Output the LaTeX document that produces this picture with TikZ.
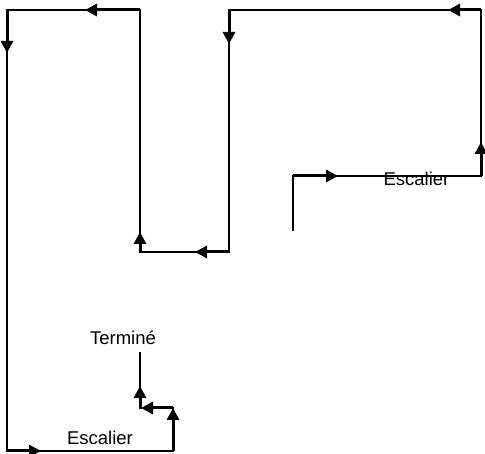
\documentclass[tikz,border=0pt]{standalone}
\usepackage{fontspec}
\setmainfont{Liberation Sans}
\usetikzlibrary{arrows.meta}
\begin{document}
\begin{tikzpicture}[x=1pt,y=-1pt,
  route/.style={line width=1.5pt,line join=miter},
  dirarrow/.style={line width=3pt,-{Triangle[length=12pt,width=12pt]}},
  lbl/.style={font=\fontsize{18.5}{20}\selectfont,anchor=base,inner sep=0pt}]
\useasboundingbox (0,0) rectangle (485,454);
% corners of the route
\coordinate (A) at (293,231);
\coordinate (B) at (293,176);
\coordinate (C) at (481,176);
\coordinate (D) at (481,10);
\coordinate (E) at (229,10);
\coordinate (F) at (229,252);
\coordinate (G) at (140,252);
\coordinate (H) at (140,10);
\coordinate (I) at (7,10);
\coordinate (J) at (7,451);
\coordinate (K) at (173,451);
\coordinate (L) at (173,408);
\coordinate (M) at (140,408);
\coordinate (N) at (140,352);
% arrow tips
\coordinate (tBC) at (338,176);
\coordinate (tCD) at (481,142);
\coordinate (tDE) at (448,10);
\coordinate (tEF) at (229,44);
\coordinate (tFG) at (195,252);
\coordinate (tGH) at (140,232);
\coordinate (tHI) at (85,10);
\coordinate (tIJ) at (7,53);
\coordinate (tJK) at (41,451);
\coordinate (tLM) at (141,408);
\coordinate (tMN) at (140,386);
% thin route
\draw[route] (A) -- (B) -- (C) -- (D) -- (E) -- (F) -- (G) -- (H) -- (I) -- (J) -- (K) -- (L) -- (M) -- (N);
% direction arrows
\draw[dirarrow] (B) -- (tBC);
\draw[dirarrow] (C) -- (tCD);
\draw[dirarrow] (D) -- (tDE);
\draw[dirarrow] (E) -- (tEF);
\draw[dirarrow] (F) -- (tFG);
\draw[dirarrow] (G) -- (tGH);
\draw[dirarrow] (H) -- (tHI);
\draw[dirarrow] (I) -- (tIJ);
\draw[dirarrow] (J) -- (tJK);
\draw[dirarrow] (K) -- (L);
\draw[dirarrow] (L) -- (tLM);
\draw[dirarrow] (M) -- (tMN);
% labels
\node[lbl] (esc1) at (416.5,186) {Escalier};
\node[lbl] (esc2) at (100,445) {Escalier};
\node[lbl] (term) at (123,345) {Terminé};
\end{tikzpicture}
\end{document}
